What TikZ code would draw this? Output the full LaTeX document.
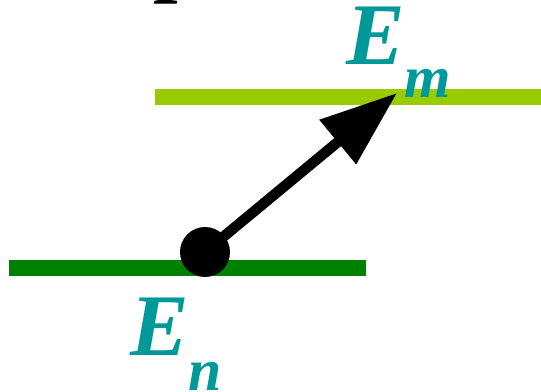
\documentclass[tikz,border=0pt]{standalone}
\usepackage{fontspec}
\setmainfont{Liberation Serif}
\usetikzlibrary{arrows.meta}
\definecolor{dkgreen}{RGB}{0,128,0}
\definecolor{ltgreen}{RGB}{153,204,0}
\definecolor{tealtxt}{RGB}{0,153,153}
\begin{document}
\begin{tikzpicture}[x=0.02cm,y=-0.02cm,
  level/.style={line width=0.32cm},
  bigfont/.style={font=\fontsize{50pt}{50pt}\selectfont\bfseries\itshape},
  lbl/.style={bigfont, text=tealtxt, inner sep=0, anchor=base west}]
\useasboundingbox (0,0) rectangle (541,392);
\coordinate (n1) at (9,268);
\coordinate (n2) at (366,268);
\coordinate (m1) at (155,97);
\coordinate (m2) at (541,97);
\draw[level, dkgreen] (n1) -- (n2);
\draw[level, ltgreen] (m1) -- (m2);
\node[circle, fill=black, minimum size=1cm, inner sep=0] (dot) at (205,252) {};
\coordinate (tip) at (397,93);
\draw[line width=0.21cm, -{Triangle[length=1.54cm 0 0, width=1.1cm 0]}] (dot.center) -- (tip);
\node[lbl] (Em) at (346,64) {E\raisebox{-0.68cm}{\fontsize{34pt}{34pt}\selectfont m}};
\node[lbl] (En) at (130,355) {E\raisebox{-0.72cm}{\fontsize{34pt}{34pt}\selectfont n}};
\node[bigfont, text=black, inner sep=0, anchor=base west] (ptop) at (160,-14) {p};
\end{tikzpicture}
\end{document}
